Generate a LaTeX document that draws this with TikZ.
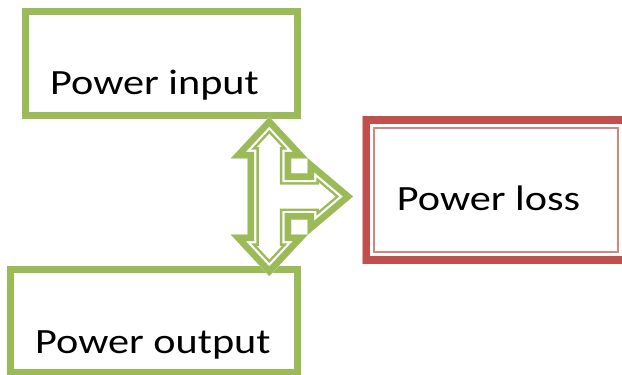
\documentclass[tikz,border=0pt]{standalone}
\usepackage{fontspec}
\setmainfont{Carlito}[FakeStretch=1.19]
\definecolor{leaf}{HTML}{9BBB59}
\definecolor{brick}{HTML}{C0504D}
\tikzset{
  x=1pt, y=-1pt,
  greenbox/.style={draw=leaf, line width=7pt, minimum width=#1, inner sep=0pt},
  lbl/.style={anchor=base west, inner sep=0pt, font=\fontsize{35.5}{42}\selectfont},
  lossbox/.style={inner sep=0pt, minimum width=266.3pt, minimum height=146.3pt,
    path picture={
      \draw[brick!70!white, line width=25pt]
        (path picture bounding box.south west) rectangle (path picture bounding box.north east);
      \draw[white, line width=20pt]
        (path picture bounding box.south west) rectangle (path picture bounding box.north east);
      \draw[brick, line width=14.6pt]
        (path picture bounding box.south west) rectangle (path picture bounding box.north east);
    }},
}
\begin{document}
\begin{tikzpicture}
\useasboundingbox[fill=white] (0,0) rectangle (622,375);

% boxes
\node[greenbox=272pt, minimum height=103.5pt] (inbox) at (161.5,63.25) {};
\node[greenbox=287pt, minimum height=103pt] (outbox) at (154,320.5) {};
\node[lossbox] (lossbox) at (495.85,189.85) {};

% labels
\node[lbl] (tin) at (50,94) {Power input};
\node[lbl] (tout) at (35,353) {Power output};
\node[lbl] (tloss) at (396.7,210) {Power loss};

% three-way block arrow between the boxes (outer outline)
\coordinate (hub) at (269.3,196.5);
\begin{scope}[shift={(hub)}, line join=miter]
  \def\arrowpath{(0,-79.5) -- (38.4,-38.2) -- (21.7,-38.2) -- (21.7,-23.2)
    -- (38.4,-23.2) -- (38.4,-38.2) -- (83.7,0) -- (38.4,38.2) -- (38.4,23.2)
    -- (21.7,23.2) -- (21.7,38.2) -- (38.4,38.2) -- (0,79.5) -- (-38.4,38.2)
    -- (-21.7,38.2) -- (-21.7,-38.2) -- (-38.4,-38.2) -- cycle}
  \clip \arrowpath;
  \fill[white] \arrowpath;
  \draw[leaf, line width=22.4pt] \arrowpath;
  \draw[white, line width=17.4pt] \arrowpath;
  \draw[leaf, line width=13pt] \arrowpath;
\end{scope}
\end{tikzpicture}
\end{document}
